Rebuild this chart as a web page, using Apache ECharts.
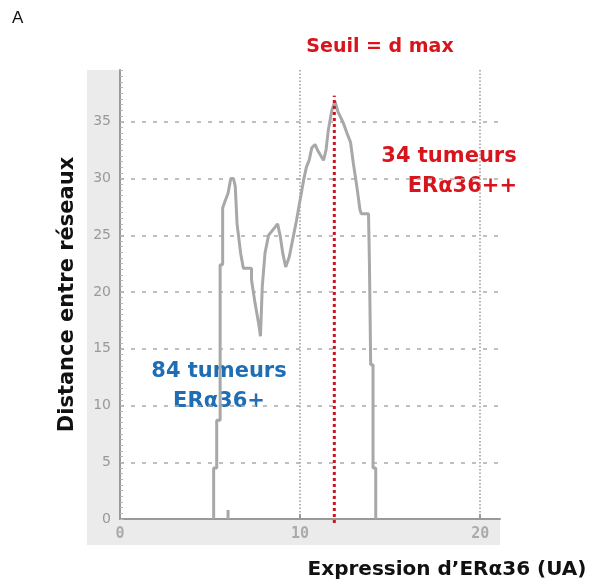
<!DOCTYPE html>
<html>
<head>
<meta charset="utf-8">
<script src="https://cdn.jsdelivr.net/npm/echarts@6/dist/echarts.min.js"></script>
<style>html,body{margin:0;padding:0;background:#fff}#c{width:608px;height:587px}</style>
</head>
<body>
<div id="c"></div>
<script>
// Curve (step-like): [x, y]
const curveX = [5.2,5.2,5.37,5.37,5.56,5.56,5.7,5.7,5.83,6.0,6.15,6.3,6.4,6.5,6.5,6.7,6.85,7.3,7.3,7.5,7.7,7.8,7.9,8.05,8.25,8.5,8.75,8.9,9.04,9.2,9.4,9.6,9.8,10.0,10.2,10.35,10.5,10.65,10.83,11.0,11.3,11.44,11.57,11.76,11.94,12.1,12.4,12.6,12.8,12.96,13.15,13.33,13.4,13.8,13.85,13.85,13.92,13.92,14.05,14.05,14.2,14.2];
const curveY = [0,4.5,4.5,8.7,8.7,22.4,22.4,27.4,28.0,28.7,30.0,30.0,29.3,29.3,26.0,23.4,22.1,22.1,21.1,19.0,17.2,16.1,20.5,23.4,25.0,25.5,26.0,24.9,23.4,22.2,23.1,24.7,26.3,28.1,29.9,31.0,31.6,32.7,33.0,32.4,31.6,32.5,34.3,36.0,36.8,35.9,34.9,34.0,33.2,31.3,29.3,27.2,26.9,26.9,26.9,22.5,22.5,13.6,13.6,4.5,4.5,0];
const spikeX = [6.0, 6.0];
const spikeY = [0, 0.8];
const thresholdX = 11.9;
const thresholdY = [-0.35, 37.3];
const yTicks = [0,5,10,15,20,25,30,35];
const xTicks = [0,10,20];

const curve = curveX.map((x,i)=>[x, curveY[i]]);
const spike = spikeX.map((x,i)=>[x, spikeY[i]]);
const thr = thresholdY.map(y=>[thresholdX, y]);

const chart = echarts.init(document.getElementById('c'), null, {renderer:'canvas'});
const bold = 'DejaVu Sans';
chart.setOption({
  animation: false,
  backgroundColor: '#fff',
  grid: {left:120, right:108, top:70, bottom:68, show:true, backgroundColor:'#fff', borderWidth:0},
  graphic: [
    {type:'rect', z:-100, shape:{x:87, y:70, width:413, height:475}, style:{fill:'#ebebeb'}},
    {type:'text', left:12, top:10, style:{text:'A', font:'17px "Liberation Sans"', fill:'#111'}},
    {type:'text', x:380, y:47, style:{text:'Seuil = d max', font:'bold 19px "DejaVu Sans"', fill:'#d8141c', align:'center', verticalAlign:'middle'}},
    {type:'text', x:449, y:157, style:{text:'34 tumeurs', font:'bold 21px "DejaVu Sans"', fill:'#d8141c', align:'center', verticalAlign:'middle'}},
    {type:'text', x:517, y:187, style:{text:'ERα36++', font:'bold 21px "DejaVu Sans"', fill:'#d8141c', align:'right', verticalAlign:'middle'}},
    {type:'text', x:219, y:372, style:{text:'84 tumeurs', font:'bold 21px "DejaVu Sans"', fill:'#1f6db4', align:'center', verticalAlign:'middle'}},
    {type:'text', x:219, y:402, style:{text:'ERα36+', font:'bold 21px "DejaVu Sans"', fill:'#1f6db4', align:'center', verticalAlign:'middle'}},
    {type:'text', x:447, y:570, style:{text:'Expression d’ERα36 (UA)', font:'bold 20px "DejaVu Sans"', fill:'#111', align:'center', verticalAlign:'middle'}}
  ],
  xAxis: {
    type:'value', min:0, max:21.1, interval:10,
    axisLine:{show:true, onZero:false, lineStyle:{color:'#999', width:2}},
    axisTick:{show:true, inside:true, length:5, customValues:xTicks, lineStyle:{color:'#999', width:2}},
    axisLabel:{customValues:xTicks, margin:8, color:'#aaa', fontFamily:'DejaVu Sans Mono', fontWeight:'bold', fontSize:15},
    splitLine:{show:true, lineStyle:{color:'#999', width:1.5, type:[1.5,2]}},
    minorTick:{show:false}
  },
  yAxis: [{
    type:'value', min:0, max:39.56, interval:5,
    name:'Distance entre réseaux', nameLocation:'middle', nameGap:42, nameRotate:90,
    nameTextStyle:{fontFamily:bold, fontWeight:'bold', fontSize:21, color:'#111'},
    axisLine:{show:true, lineStyle:{color:'#999', width:2}},
    axisTick:{show:true, inside:true, length:4, customValues:yTicks, lineStyle:{color:'#aaa'}},
    axisLabel:{customValues:yTicks, margin:9, color:'#999', fontFamily:'DejaVu Sans', fontSize:14},
    splitLine:{show:true, lineStyle:{color:'#aaa', width:1.5, type:[4,7]}}
  }, {
    type:'value', min:0, max:39.56, interval:0.5, position:'left', offset:0,
    axisLine:{show:false},
    axisTick:{show:true, inside:true, length:3, lineStyle:{color:'#b5b5b5', width:1}},
    axisLabel:{show:false},
    splitLine:{show:false}
  }],
  series: [
    {type:'line', data:curve, symbol:'none', lineStyle:{color:'#a8a8a8', width:3}, z:3},
    {type:'line', data:spike, symbol:'none', lineStyle:{color:'#a8a8a8', width:3}, z:3},
    {type:'line', data:thr, symbol:'none', clip:false, lineStyle:{color:'#d0141c', width:3, type:[3,3]}, z:4}
  ]
});
</script>
</body>
</html>
